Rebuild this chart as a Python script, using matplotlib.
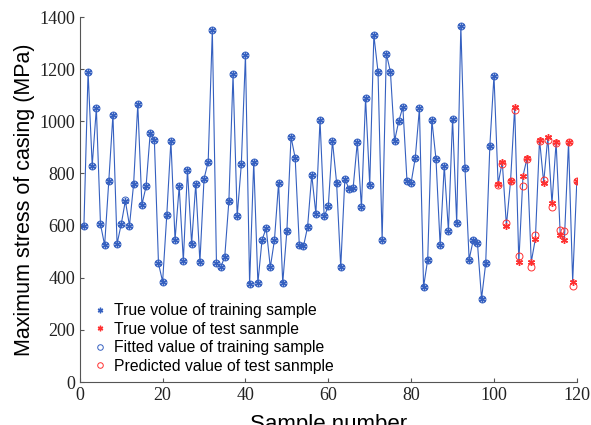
import matplotlib
matplotlib.use('Agg')
import matplotlib.pyplot as plt
import numpy as np

# true values, training samples 1..100
train_true = [600, 1190, 830, 1050, 605, 525, 770, 1025, 530, 605,
              695, 600, 760, 1065, 680, 750, 955, 930, 455, 385,
              640, 925, 545, 750, 465, 815, 530, 760, 460, 780,
              845, 1350, 455, 440, 480, 695, 1180, 635, 835, 1255,
              375, 845, 380, 545, 590, 440, 545, 765, 380, 580,
              940, 860, 525, 520, 595, 795, 645, 1005, 635, 675,
              925, 765, 440, 780, 740, 745, 920, 670, 1090, 755,
              1330, 1190, 545, 1260, 1190, 925, 1000, 1055, 770, 765,
              860, 1050, 365, 470, 1005, 855, 525, 830, 580, 1010,
              610, 1365, 820, 470, 545, 535, 320, 455, 905, 1175]
# fitted values (almost the same as true ones)
train_fit = [600, 1190, 830, 1050, 605, 525, 770, 1025, 530, 605,
             700, 600, 760, 1065, 680, 750, 955, 930, 455, 385,
             640, 925, 545, 750, 465, 815, 530, 760, 460, 780,
             845, 1350, 455, 440, 480, 695, 1180, 635, 835, 1255,
             375, 845, 380, 545, 590, 440, 545, 765, 380, 580,
             940, 860, 525, 520, 595, 795, 645, 1005, 635, 675,
             925, 765, 440, 780, 740, 745, 920, 670, 1090, 755,
             1330, 1190, 545, 1260, 1190, 925, 1000, 1055, 770, 765,
             860, 1050, 365, 470, 1005, 855, 525, 830, 580, 1010,
             610, 1365, 820, 470, 545, 535, 320, 455, 905, 1175]
# test samples 101..120
test_true = [760, 845, 600, 770, 1055, 460, 790, 860, 460, 550,
             930, 765, 940, 685, 920, 565, 545, 920, 385, 770]
test_pred = [755, 835, 610, 770, 1045, 485, 750, 855, 440, 565,
             925, 775, 930, 670, 915, 585, 580, 920, 370, 770]

x_train = np.arange(1, len(train_true) + 1)
x_test = np.arange(len(train_true) + 1, len(train_true) + len(test_true) + 1)

blue = '#3560c0'
red = '#ff3030'
star = (6, 2, 0)   # thin asterisk like matlab '*'

fig = plt.figure(figsize=(5.91, 4.25), dpi=100)
ax = fig.add_axes([0.135, 0.101, 0.841, 0.859])

# connecting line through all true values
ax.plot(np.concatenate([x_train, x_test]), train_true + test_true, '-', color=blue, lw=0.8)
ax.plot(x_train, train_true, marker=star, color=blue, mec=blue, mew=1.0, ms=5, ls='none', label='True volue of training sample')
ax.plot(x_test, test_true, marker=star, color=red, mec=red, mew=1.0, ms=5, ls='none', label='True volue of test sanmple')
ax.plot(x_train, train_fit, 'o', mfc='none', mec=blue, mew=0.7, ms=5, ls='none', label='Fitted value of training sample')
ax.plot(x_test, test_pred, 'o', mfc='none', mec=red, mew=0.7, ms=5, ls='none', label='Predicted value of test sanmple')

ax.set_xlim(0, 120)
ax.set_ylim(0, 1400)
ax.set_xticks(range(0, 121, 20))
ax.set_yticks(range(0, 1401, 200))
ax.spines['top'].set_visible(False)
ax.spines['right'].set_visible(False)
for s in ['left', 'bottom']:
    ax.spines[s].set_color('#555555')
    ax.spines[s].set_linewidth(0.8)
ax.tick_params(direction='in', length=3, color='#555555', width=0.8,
               labelsize=13, labelcolor='#222222', labelfontfamily='Liberation Serif')

# xlabel sits at the bottom edge, as in the original figure
ax.set_xlabel('Sample number', family='Liberation Sans', fontsize=16, labelpad=7)
ax.set_ylabel('Maximum stress of casing (MPa)', family='Liberation Sans', fontsize=15.5, labelpad=3)

leg = ax.legend(loc='lower left', bbox_to_anchor=(-0.01, -0.033), frameon=False,
                prop={'family': 'Liberation Sans', 'size': 11.3},
                handlelength=0.6, handletextpad=0.6, labelspacing=0.22, borderaxespad=0.9,
                markerscale=0.8)

fig.savefig('out.png', dpi=100)
